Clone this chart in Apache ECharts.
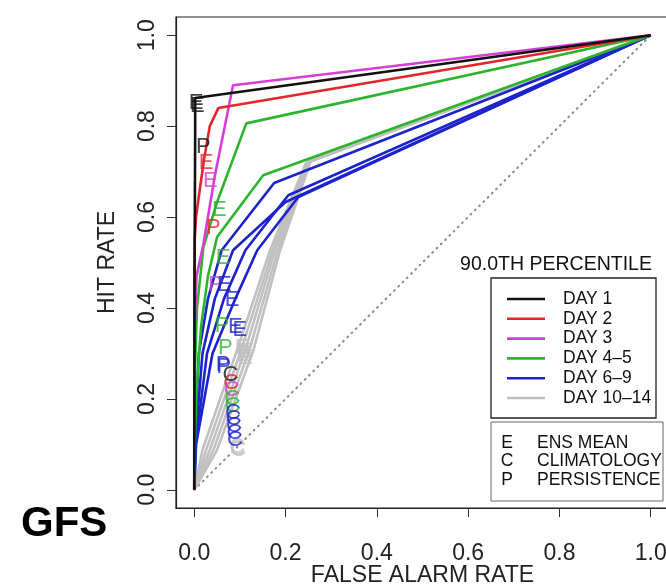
<!DOCTYPE html>
<html>
<head>
<meta charset="utf-8">
<script src="https://cdn.jsdelivr.net/npm/echarts@6/dist/echarts.min.js"></script>
<style>
  html, body { margin: 0; padding: 0; background: #fff; }
  #chart { width: 666px; height: 586px; }
</style>
</head>
<body>
<div id="chart"></div>
<script>
// ROC curves, 90th percentile, GFS
const dayNames = ['DAY 1', 'DAY 2', 'DAY 3', 'DAY 4\u20135', 'DAY 6\u20139', 'DAY 10\u201314'];
const markNames = [['E', 'ENS MEAN'], ['C', 'CLIMATOLOGY'], ['P', 'PERSISTENCE']];
const tickValues = [0, 0.2, 0.4, 0.6, 0.8, 1.0];

// curves per forecast day group, points are [false alarm rate, hit rate]
const day1 = [
  [[0, 0], [0.0005, 0.45], [0.002, 0.78], [0.002, 0.862], [1, 1]]
];
const day2 = [
  [[0, 0], [0.0005, 0.3], [0.001, 0.55], [0.004, 0.6], [0.012, 0.66], [0.022, 0.73], [0.034, 0.8], [0.053, 0.84], [1, 1]]
];
const day3 = [
  [[0, 0], [0, 0.2], [0.001, 0.36], [0.005, 0.47], [0.02, 0.54], [0.045, 0.69], [0.085, 0.89], [1, 1]]
];
const day4to5 = [
  [[0, 0], [0, 0.12], [0.001, 0.25], [0.006, 0.4], [0.02, 0.534], [0.05, 0.633], [0.114, 0.806], [1, 1]],
  [[0, 0], [0.001, 0.1], [0.005, 0.22], [0.015, 0.36], [0.03, 0.47], [0.05, 0.556], [0.151, 0.692], [1, 1]]
];
const day6to9 = [
  [[0, 0], [0.001, 0.1], [0.01, 0.3], [0.03, 0.42], [0.06, 0.527], [0.175, 0.675], [1, 1]],
  [[0, 0], [0.002, 0.1], [0.018, 0.3], [0.045, 0.42], [0.085, 0.527], [0.2, 0.633], [1, 1]],
  [[0, 0], [0.003, 0.1], [0.028, 0.3], [0.065, 0.42], [0.112, 0.527], [0.206, 0.648], [1, 1]],
  [[0, 0], [0.004, 0.1], [0.04, 0.3], [0.09, 0.42], [0.138, 0.527], [0.228, 0.644], [1, 1]]
];
const day10to14 = [
  [[0, 0], [0.018, 0.088], [0.094, 0.308], [0.166, 0.527], [0.244, 0.718], [1, 1]],
  [[0, 0], [0.026, 0.088], [0.103, 0.308], [0.172, 0.527], [0.247, 0.72], [1, 1]],
  [[0, 0], [0.034, 0.088], [0.112, 0.308], [0.177, 0.527], [0.25, 0.722], [1, 1]],
  [[0, 0], [0.042, 0.088], [0.121, 0.308], [0.183, 0.527], [0.253, 0.724], [1, 1]],
  [[0, 0], [0.05, 0.088], [0.13, 0.308], [0.188, 0.527], [0.256, 0.726], [1, 1]]
];
const dayCurves = [day1, day2, day3, day4to5, day6to9, day10to14];

// letter marks: [x, y, day group index]
const ensMarks = [
  [0.004, 0.85, 0], [0.007, 0.845, 0], [0.026, 0.72, 1], [0.035, 0.68, 2],
  [0.055, 0.615, 3], [0.063, 0.51, 3],
  [0.066, 0.45, 4], [0.083, 0.418, 4], [0.09, 0.358, 4], [0.1, 0.352, 4],
  [0.105, 0.312, 5], [0.109, 0.303, 5], [0.111, 0.296, 5], [0.113, 0.29, 5]
];
const climMarks = [
  [0.079, 0.253, 0], [0.081, 0.235, 1], [0.082, 0.22, 2], [0.083, 0.2, 3], [0.084, 0.185, 3],
  [0.094, 0.095, 5], [0.095, 0.09, 5], [0.096, 0.087, 5],
  [0.085, 0.17, 4], [0.086, 0.155, 4], [0.087, 0.14, 4], [0.088, 0.125, 4], [0.089, 0.11, 4]
];
const persMarks = [
  [0.02, 0.755, 0], [0.042, 0.576, 1], [0.046, 0.45, 2], [0.061, 0.36, 3], [0.068, 0.312, 3],
  [0.108, 0.3, 5], [0.11, 0.292, 5],
  [0.063, 0.275, 4], [0.065, 0.27, 4]
];
const chanceLine = [[0, 0], [1, 1]];

const colors = ['#111111', '#e3262a', '#d63fd6', '#2cb52c', '#1c22cc', '#c0c0c0'];
const font = 'Liberation Sans, Arial, sans-serif';

const chart = echarts.init(document.getElementById('chart'));

const series = [];
series.push({
  type: 'line', data: chanceLine, symbol: 'none', silent: true, z: 1,
  lineStyle: { color: '#8a8a8a', width: 2, type: [1, 5], cap: 'round' }
});
// gray first so black ends on top
for (let g = dayCurves.length - 1; g >= 0; g--) {
  dayCurves[g].forEach(function (pts) {
    series.push({
      type: 'line', name: dayNames[g], data: pts, symbol: 'none', z: 2,
      lineStyle: { color: colors[g], width: 2.6 }
    });
  });
}
function letters(list, ch) {
  return {
    type: 'scatter', symbolSize: 1, z: 5,
    itemStyle: { color: 'rgba(0,0,0,0)' },
    data: list.map(function (m) {
      return {
        value: [m[0], m[1]],
        label: { show: true, position: 'inside', formatter: ch, color: colors[m[2]],
          fontSize: 22, fontFamily: font }
      };
    })
  };
}
series.push(letters(climMarks, 'C'));
series.push(letters(persMarks, 'P'));
series.push(letters(ensMarks, 'E'));

// legend drawn by hand, two framed boxes like the original
const graphic = [];
graphic.push({ type: 'text', left: 21, top: 503,
  style: { text: 'GFS', font: 'bold 42px ' + font, fill: '#000' } });
graphic.push({ type: 'text', x: 556, y: 265,
  style: { text: '90.0TH PERCENTILE', font: '19.5px ' + font, fill: '#111', align: 'center', verticalAlign: 'middle' } });
graphic.push({ type: 'rect', shape: { x: 491, y: 278, width: 165, height: 140 },
  style: { fill: 'none', stroke: '#222', lineWidth: 1.3 } });
dayNames.forEach(function (nm, i) {
  const y = 299 + i * 19.8;
  graphic.push({ type: 'line', shape: { x1: 507, y1: y, x2: 545, y2: y },
    style: { stroke: colors[i], lineWidth: 2.6 } });
  graphic.push({ type: 'text', x: 563, y: y,
    style: { text: nm, font: '17.5px ' + font, fill: '#111', verticalAlign: 'middle' } });
});
graphic.push({ type: 'rect', shape: { x: 491, y: 422, width: 172, height: 79 },
  style: { fill: 'none', stroke: '#666', lineWidth: 1 } });
markNames.forEach(function (m, i) {
  const y = 443 + i * 18.5;
  graphic.push({ type: 'text', x: 507, y: y,
    style: { text: m[0], font: '17.5px ' + font, fill: '#111', align: 'center', verticalAlign: 'middle' } });
  graphic.push({ type: 'text', x: 537, y: y,
    style: { text: m[1], font: '17.5px ' + font, fill: '#111', verticalAlign: 'middle' } });
});

const axisCommon = {
  type: 'value', min: -0.04, max: 1.04,
  splitLine: { show: false },
  axisLine: { show: true, onZero: false, lineStyle: { color: '#222', width: 1.2 } },
  axisTick: { show: true, length: 9, customValues: tickValues, lineStyle: { color: '#333', width: 1 } },
  nameLocation: 'middle',
  nameMoveOverlap: false,
  nameTextStyle: { fontSize: 23, fontFamily: font, color: '#222' }
};

chart.setOption({
  animation: false,
  backgroundColor: '#fff',
  grid: { left: 176, top: 17, width: 493, height: 491, outerBoundsMode: 'none',
    show: true, borderColor: '#222', borderWidth: 1.2 },
  xAxis: Object.assign({}, axisCommon, {
    name: 'FALSE ALARM RATE', nameGap: 56,
    axisLabel: { customValues: tickValues, margin: 34, fontSize: 23, fontFamily: font, color: '#222',
      formatter: function (v) { return v.toFixed(1); } }
  }),
  yAxis: Object.assign({}, axisCommon, {
    name: 'HIT RATE', nameGap: 57,
    axisLabel: { customValues: tickValues, margin: 17, rotate: 90, fontSize: 23, fontFamily: font, color: '#222',
      formatter: function (v) { return v.toFixed(1); } }
  }),
  graphic: graphic,
  series: series
});
</script>
</body>
</html>
